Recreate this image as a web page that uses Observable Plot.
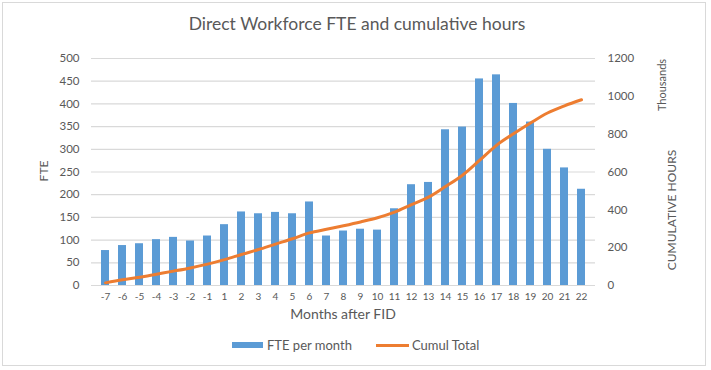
<!DOCTYPE html>
<html><head><meta charset="utf-8">
<script src="https://cdn.jsdelivr.net/npm/d3@7"></script>
<script src="https://cdn.jsdelivr.net/npm/@observablehq/plot@0.6"></script>
<style>
body{margin:0;background:#fff;font-family:Lato,"Open Sans",sans-serif;}
#wrap{position:relative;width:711px;height:370px;overflow:hidden;}
#frame{position:absolute;left:2px;top:2px;width:704px;height:364px;border:1px solid #d9d9d9;box-sizing:border-box;}
.t{position:absolute;color:#595959;white-space:nowrap;}
#chart{position:absolute;left:0;top:0;}
</style></head>
<body>
<div id="wrap">
<div id="frame"></div>
<div id="chart"></div>
<div class="t" id="title" style="left:357px;top:23px;font-size:17.5px;transform:translate(-50%,-50%);">Direct Workforce FTE and cumulative hours</div>
<div class="t" style="left:43px;top:171px;font-size:12px;transform:translate(-50%,-50%) rotate(-90deg);">FTE</div>
<div class="t" style="left:661px;top:85px;font-size:11px;transform:translate(-50%,-50%) rotate(-90deg);">Thousands</div>
<div class="t" style="left:671px;top:210px;font-size:12px;transform:translate(-50%,-50%) rotate(-90deg);">CUMULATIVE HOURS</div>
<div class="t" style="left:343px;top:313px;font-size:14px;transform:translate(-50%,-50%);">Months after FID</div>
<div class="t" id="legend" style="left:232px;top:336px;font-size:13px;display:flex;align-items:center;height:18px;">
  <span style="display:inline-block;width:31px;height:6px;background:#5B9BD5;margin-right:4px;"></span><span>FTE per month</span>
  <span style="display:inline-block;width:33px;height:3px;background:#ED7D31;margin-left:24px;margin-right:3px;"></span><span>Cumul Total</span>
</div>
</div>
<script>
const months = ["-7","-6","-5","-4","-3","-2","-1","1","2","3","4","5","6","7","8","9","10","11","12","13","14","15","16","17","18","19","20","21","22"];
const ftePerMonth = [77,88,92,101,106,98,109,134,162,158,161,158,184,109,120,124,122,169,222,227,343,349,455,464,401,360,300,259,212];
const cumulTotal = [14,30,44,60,76,93,113,137,164,190,219,247,278,297,316,336,358,388,428,467,523,583,661,741,802,859,912,950,982];
const leftTicks = [0,50,100,150,200,250,300,350,400,450,500];
const rightTicks = [0,200,400,600,800,1000,1200];

const leftMax = 500, rightMax = 1200;
const toLeft = v => v * leftMax / rightMax;
const bars = months.map((m,i)=>({m, v: ftePerMonth[i]}));
const line = months.map((m,i)=>({m, v: toLeft(cumulTotal[i])}));

const chart = Plot.plot({
  width: 711, height: 370,
  marginTop: 58, marginBottom: 85, marginLeft: 91, marginRight: 116,
  style: {fontFamily: "Lato, 'Open Sans', sans-serif", fontSize: "11px", color: "#595959", background: "transparent"},
  x: {type: "band", domain: months, paddingInner: 0.54, paddingOuter: 0.27, label: null},
  y: {domain: [0, leftMax], label: null},
  marks: [
    Plot.gridY(leftTicks, {stroke: "#d9d9d9", strokeOpacity: 1, strokeWidth: 1.2}),
    Plot.barY(bars, {x: "m", y: "v", fill: "#5B9BD5"}),
    Plot.line(line, {x: "m", y: "v", stroke: "#ED7D31", strokeWidth: 3, curve: "catmull-rom"}),
    Plot.axisY(leftTicks, {anchor: "left", tickSize: 0, tickPadding: 12, label: null, fontSize: 11.5}),
    Plot.axisY(rightTicks.map(toLeft), {anchor: "right", tickSize: 0, tickPadding: 12, label: null, fontSize: 11.5, tickFormat: d => String(Math.round(d * rightMax / leftMax))}),
    Plot.axisX({anchor: "bottom", tickSize: 0, tickPadding: 7, label: null, fontSize: 10})
  ]
});
document.getElementById("chart").appendChild(chart);
</script>
</body></html>
